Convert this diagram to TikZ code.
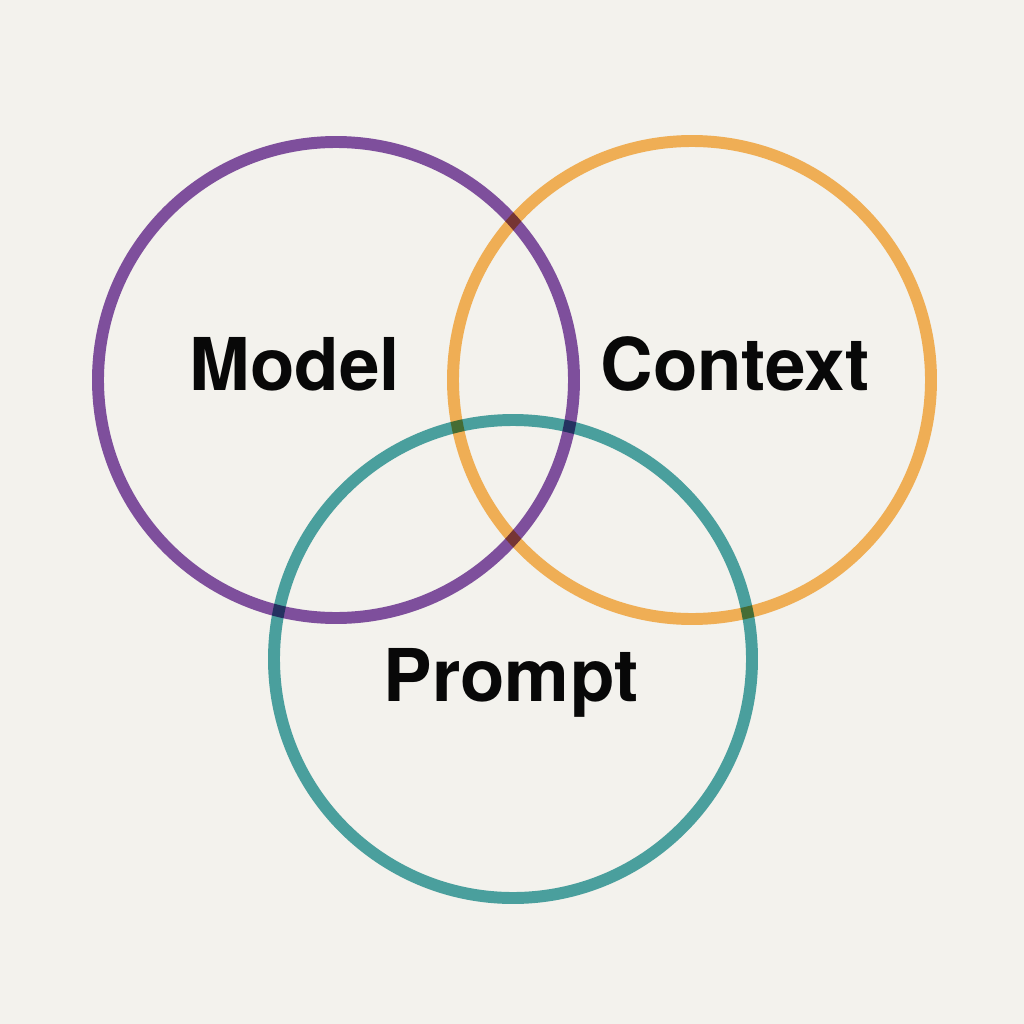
\documentclass[tikz,border=0pt]{standalone}
\usepackage{fontspec}
\setmainfont{TeX Gyre Heros}
\definecolor{bg}{HTML}{F3F2ED}
\definecolor{cpurple}{HTML}{7E4F9C}
\definecolor{corange}{HTML}{EFAE55}
\definecolor{cteal}{HTML}{4A9F9D}
\tikzset{
  ring/.style={draw=#1, line width=3.4pt},
  lbl/.style={font=\fontsize{20.7pt}{24pt}\selectfont\bfseries, text=black!97, anchor=base, inner sep=0pt}
}
\begin{document}
\begin{tikzpicture}[x=0.01cm,y=-0.01cm]
\fill[bg] (0,0) rectangle (1024,1024);
\useasboundingbox (0,0) rectangle (1024,1024);
\begin{scope}[blend group=multiply]
\draw[ring=cpurple] (336,380) circle[radius=238];
\draw[ring=corange] (692,380) circle[radius=239];
\draw[ring=cteal] (513,659) circle[radius=239];
\end{scope}
\node[lbl] (model) at (295,390) {Model};
\node[lbl] (context) at (735,390) {Context};
\node[lbl] (prompt) at (511,701) {Prompt};
\end{tikzpicture}
\end{document}
